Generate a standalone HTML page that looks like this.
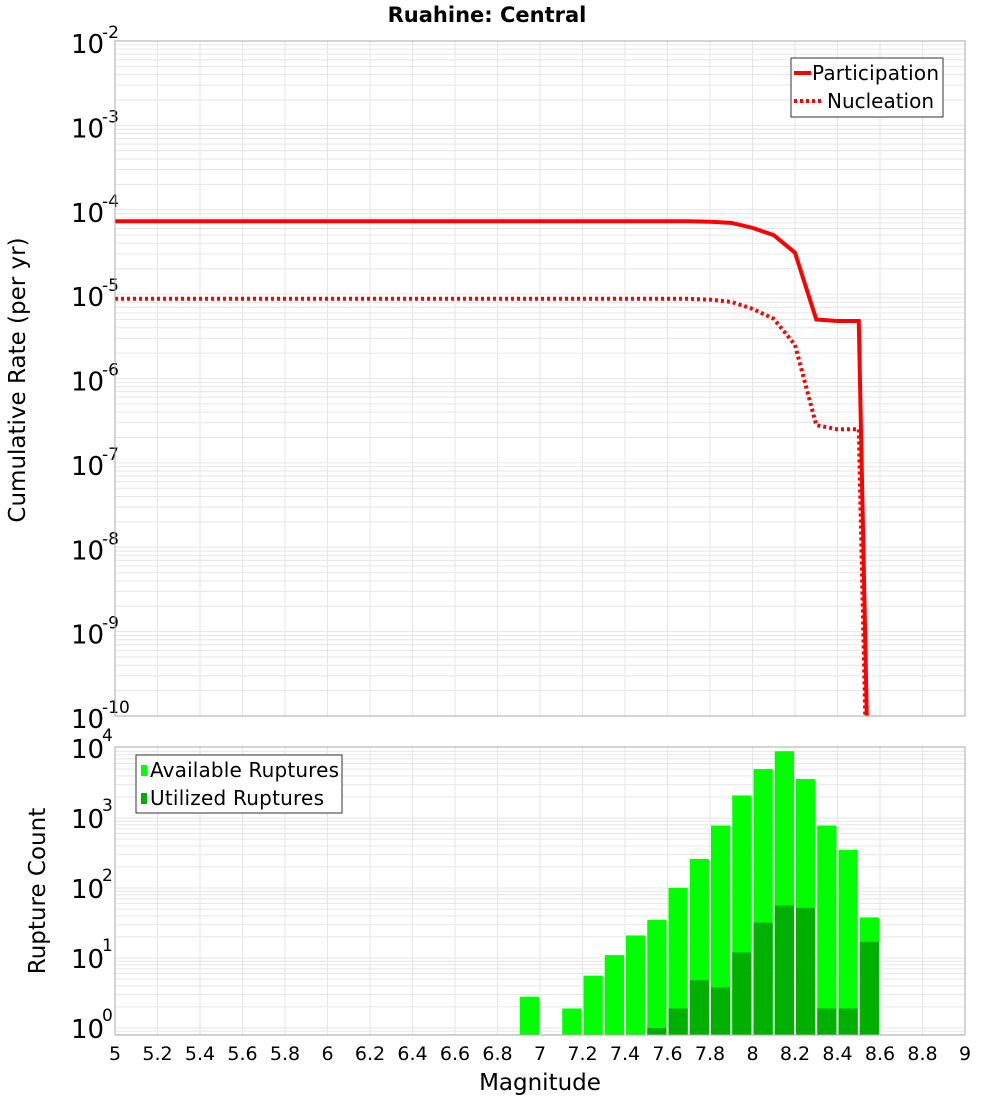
<!DOCTYPE html>
<html><head><meta charset="utf-8"><style>
html,body{margin:0;padding:0;background:#fff;overflow:hidden;width:1000px;height:1100px}
svg{display:block}
svg text{font-family:"DejaVu Sans","Liberation Sans",sans-serif}
</style></head><body>
<svg id="c" width="1000" height="1100" xmlns="http://www.w3.org/2000/svg">
<text x="487" y="22" text-anchor="middle" font-size="21" font-weight="bold">Ruahine: Central</text>
<text transform="translate(25,380) rotate(-90)" text-anchor="middle" font-size="23">Cumulative Rate (per yr)</text>
<text transform="translate(45,891) rotate(-90)" text-anchor="middle" font-size="23">Rupture Count</text>
<text x="540" y="1090" text-anchor="middle" font-size="23">Magnitude</text>
<g id="g"></g>
</svg>
<script>
const mags = [5.0,5.1,5.2,5.3,5.4,5.5,5.6,5.7,5.8,5.9,6.0,6.1,6.2,6.3,6.4,6.5,6.6,6.7,6.8,6.9,7.0,7.1,7.2,7.3,7.4,7.5,7.6,7.7,7.8,7.9,8.0,8.1,8.2,8.3,8.4,8.5,8.6];
const participation = [7.3e-5,7.3e-5,7.3e-5,7.3e-5,7.3e-5,7.3e-5,7.3e-5,7.3e-5,7.3e-5,7.3e-5,7.3e-5,7.3e-5,7.3e-5,7.3e-5,7.3e-5,7.3e-5,7.3e-5,7.3e-5,7.3e-5,7.3e-5,7.3e-5,7.3e-5,7.3e-5,7.3e-5,7.3e-5,7.3e-5,7.3e-5,7.3e-5,7.2e-5,7.0e-5,6.1e-5,5.0e-5,3.1e-5,5.0e-6,4.8e-6,4.8e-6,2e-18];
const nucleation = [8.8e-6,8.8e-6,8.8e-6,8.8e-6,8.8e-6,8.8e-6,8.8e-6,8.8e-6,8.8e-6,8.8e-6,8.8e-6,8.8e-6,8.8e-6,8.8e-6,8.8e-6,8.8e-6,8.8e-6,8.8e-6,8.8e-6,8.8e-6,8.8e-6,8.8e-6,8.8e-6,8.8e-6,8.8e-6,8.8e-6,8.8e-6,8.8e-6,8.6e-6,8.1e-6,6.7e-6,5.1e-6,2.5e-6,2.8e-7,2.5e-7,2.5e-7,2e-18];
const binMags = [6.9,7.1,7.2,7.3,7.4,7.5,7.6,7.7,7.8,7.9,8.0,8.1,8.2,8.3,8.4,8.5];
const available = [2.8,1.9,5.6,11,21,35,100,260,780,2100,5000,9000,3600,780,350,38];
const utilized = [0,0,0,0,0,1,1.9,4.8,3.8,12,32,56,52,1.9,1.9,17];
const xTicks = [5,5.2,5.4,5.6,5.8,6,6.2,6.4,6.6,6.8,7,7.2,7.4,7.6,7.8,8,8.2,8.4,8.6,8.8,9];
const topExps = [-2,-3,-4,-5,-6,-7,-8,-9,-10];
const botExps = [4,3,2,1,0];

const NS="http://www.w3.org/2000/svg", G=document.getElementById('g');
function mk(t,a,p){const e=document.createElementNS(NS,t);for(const k in a)e.setAttribute(k,a[k]);(p||G).appendChild(e);return e;}
const X0=115,X1=965;
const xs=m=>X0+(m-5)/4*(X1-X0);
const T0=41,T1=716; const yt=v=>T0+(-2-Math.log10(v))*(T1-T0)/8;
const B0=747,B1=1035; const PD=70; const yb=v=>1028-Math.log10(v)*PD;

let e=mk('rect',{x:X0,y:T0,width:X1-X0,height:T1-T0,fill:'#fff'});


for(let d=-10;d<-2;d++)for(let k=1;k<10;k++){const y=yt(k*Math.pow(10,d));if(y>=T0&&y<=T1)mk('line',{x1:X0,x2:X1,y1:y,y2:y,stroke:'#e6e6e6','stroke-width':1});}
xTicks.forEach(t=>{mk('line',{x1:xs(t),x2:xs(t),y1:T0,y2:T1,stroke:'#e6e6e6'});mk('line',{x1:xs(t),x2:xs(t),y1:B0,y2:B1,stroke:'#e6e6e6'});});
for(let d=-1;d<4;d++)for(let k=1;k<10;k++){const y=yb(k*Math.pow(10,d));if(y>=B0&&y<=B1)mk('line',{x1:X0,x2:X1,y1:y,y2:y,stroke:'#e6e6e6'});}
topExps.forEach(p=>{const y=yt(Math.pow(10,p));
 const t=mk('text',{x:71,y:y+12,'font-size':26});t.textContent='10';
 
 
 const s=mk('text',{x:102,y:y-3,'font-size':17});s.textContent=String(p);
 
 });
botExps.forEach(p=>{const y=yb(Math.pow(10,p));
 const t=mk('text',{x:71,y:y+10,'font-size':26});t.textContent='10';
 
 
 const s=mk('text',{x:102,y:y-7,'font-size':17});s.textContent=String(p);
 
 });
xTicks.forEach(t=>{const l=mk('text',{x:xs(t),y:1060,'font-size':19,'text-anchor':'middle'});l.textContent=String(t);
 
 });

const cp=mk('clipPath',{id:'cp'});mk('rect',{x:X0,y:T0,width:X1-X0,height:T1-T0},cp);
const pts=a=>mags.map((m,i)=>xs(m)+','+Math.max(-5000,yt(a[i]))).join(' ');
e=mk('polyline',{points:pts(participation),fill:'none',stroke:'#ff0000','stroke-width':4,'clip-path':'url(#cp)'});


e=mk('polyline',{points:pts(nucleation),fill:'none',stroke:'#ff0000','stroke-width':4,'stroke-dasharray':'3,3','clip-path':'url(#cp)'});


mk('rect',{x:X0,y:T0,width:X1-X0,height:T1-T0,fill:'none',stroke:'#aaa'});

binMags.forEach((m,i)=>{const x=xs(m)+1,w=xs(m+0.1)-xs(m)-2;
 if(available[i]>0){const y=yb(available[i]);const r=mk('rect',{x:x,y:y,width:w,height:B1-y,fill:'#00ff00'});
 
 }
 if(utilized[i]>0){const y=yb(utilized[i]);const r=mk('rect',{x:x,y:y,width:w,height:B1-y,fill:'#00b000'});
 
 }
});
mk('rect',{x:X0,y:B0,width:X1-X0,height:B1-B0,fill:'none',stroke:'#aaa'});

let lg=mk('g',{});


mk('rect',{x:791,y:58,width:152,height:59,fill:'#fff',stroke:'#333'},lg);
mk('line',{x1:794,x2:811,y1:73,y2:73,stroke:'#f00','stroke-width':4},lg);
mk('line',{x1:794,x2:822,y1:101,y2:101,stroke:'#f00','stroke-width':4,'stroke-dasharray':'3,3'},lg);
let t=mk('text',{x:812,y:80,'font-size':20,textLength:127},lg);t.textContent='Participation';
t=mk('text',{x:827,y:108,'font-size':20,textLength:107},lg);t.textContent='Nucleation';
lg=mk('g',{});


mk('rect',{x:136,y:755,width:206,height:58,fill:'#fff',stroke:'#333'},lg);
mk('rect',{x:141,y:765,width:6,height:11,fill:'#00ff00'},lg);
mk('rect',{x:141,y:793,width:6,height:11,fill:'#00b000'},lg);
t=mk('text',{x:150,y:777,'font-size':20,textLength:189},lg);t.textContent='Available Ruptures';
t=mk('text',{x:150,y:805,'font-size':20,textLength:174},lg);t.textContent='Utilized Ruptures';
</script>
</body></html>
